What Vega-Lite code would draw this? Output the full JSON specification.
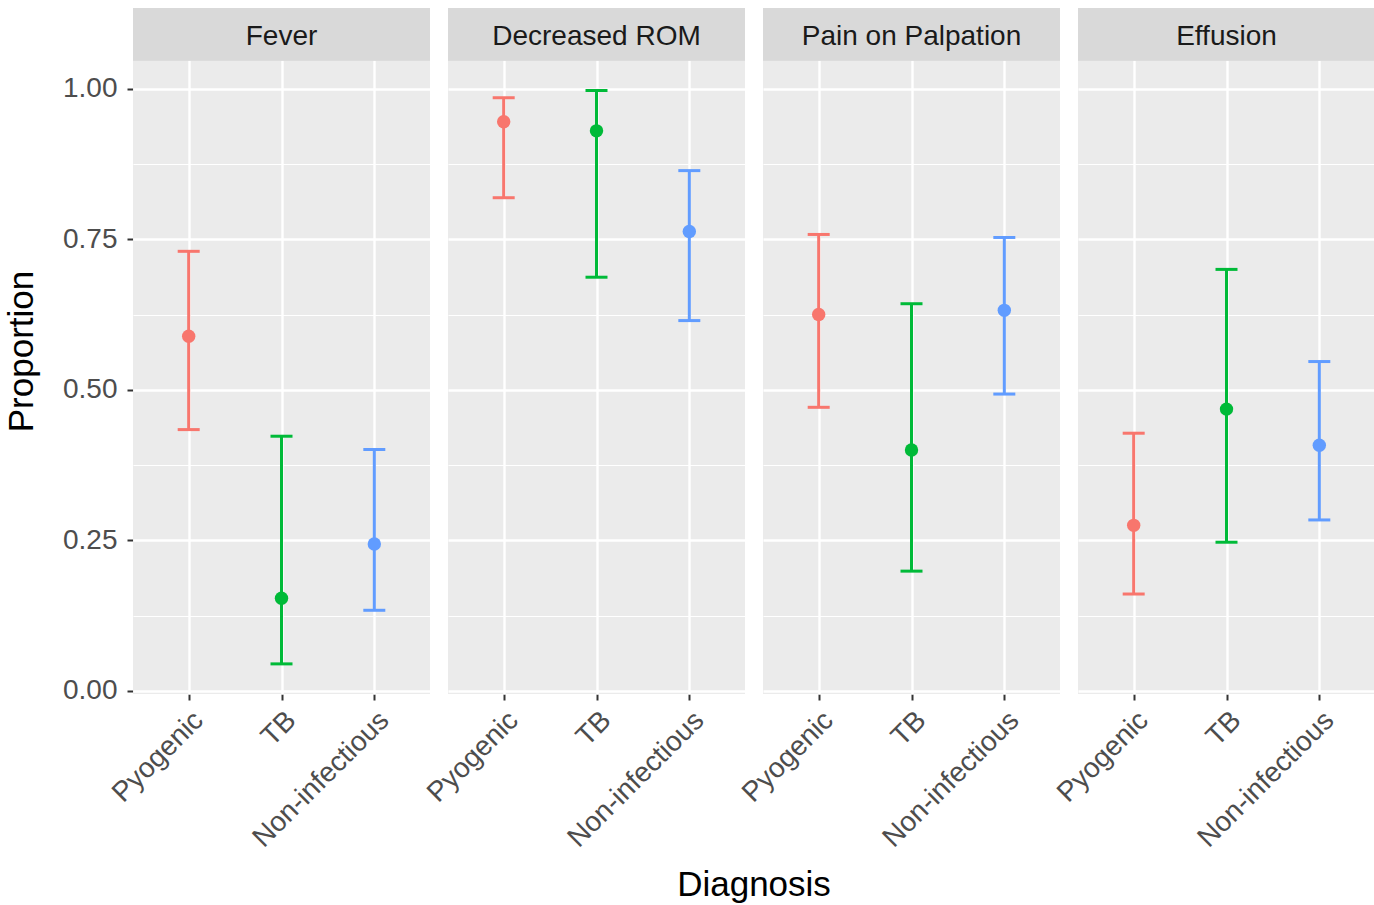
{
  "$schema": "https://vega.github.io/schema/vega-lite/v6.json",
  "padding": {"left": 4, "top": 8, "right": 0, "bottom": 2},
  "background": "white",
  "data": {"values": [
    {"symptom": "Fever", "diagnosis": "Pyogenic", "p": 0.589, "lo": 0.434, "hi": 0.730},
    {"symptom": "Fever", "diagnosis": "TB", "p": 0.154, "lo": 0.045, "hi": 0.423},
    {"symptom": "Fever", "diagnosis": "Non-infectious", "p": 0.244, "lo": 0.134, "hi": 0.401},
    {"symptom": "Decreased ROM", "diagnosis": "Pyogenic", "p": 0.945, "lo": 0.819, "hi": 0.985},
    {"symptom": "Decreased ROM", "diagnosis": "TB", "p": 0.930, "lo": 0.687, "hi": 0.997},
    {"symptom": "Decreased ROM", "diagnosis": "Non-infectious", "p": 0.763, "lo": 0.615, "hi": 0.864},
    {"symptom": "Pain on Palpation", "diagnosis": "Pyogenic", "p": 0.625, "lo": 0.471, "hi": 0.758},
    {"symptom": "Pain on Palpation", "diagnosis": "TB", "p": 0.400, "lo": 0.199, "hi": 0.643},
    {"symptom": "Pain on Palpation", "diagnosis": "Non-infectious", "p": 0.632, "lo": 0.493, "hi": 0.753},
    {"symptom": "Effusion", "diagnosis": "Pyogenic", "p": 0.275, "lo": 0.161, "hi": 0.428},
    {"symptom": "Effusion", "diagnosis": "TB", "p": 0.468, "lo": 0.247, "hi": 0.700},
    {"symptom": "Effusion", "diagnosis": "Non-infectious", "p": 0.408, "lo": 0.284, "hi": 0.547}
  ]},
  "facet": {
    "column": {
      "field": "symptom",
      "type": "nominal",
      "sort": ["Fever", "Decreased ROM", "Pain on Palpation", "Effusion"],
      "title": "Diagnosis",
      "header": {
        "labels": false,
        "titleOrient": "bottom",
        "titleFontSize": 35,
        "titleFont": "Liberation Sans",
        "titleFontWeight": "normal",
        "titleColor": "black",
        "titlePadding": 5
      }
    }
  },
  "spacing": 18,
  "spec": {
    "width": 297,
    "height": 686,
    "encoding": {
      "x": {
        "field": "diagnosis",
        "type": "ordinal",
        "sort": ["Pyogenic", "TB", "Non-infectious"],
        "scale": {"type": "point", "padding": 0.6},
        "axis": {
          "title": null,
          "grid": true,
          "gridColor": "white",
          "gridWidth": 2.4,
          "domain": false,
          "tickColor": "#333333",
          "tickSize": 6,
          "tickWidth": 2,
          "labelAngle": -45,
          "labelAlign": "right",
          "labelBaseline": "top",
          "labelFont": "Liberation Sans",
          "labelFontSize": 28,
          "labelColor": "#4d4d4d",
          "labelPadding": 6
        }
      }
    },
    "layer": [
      {
        "mark": {"type": "rect", "color": "#d9d9d9"},
        "encoding": {
          "x": null,
          "y": {"datum": 1.047, "type": "quantitative"},
          "y2": {"datum": 1.134}
        }
      },
      {
        "transform": [{"filter": "datum.diagnosis == 'TB'"}],
        "mark": {"type": "text", "font": "Liberation Sans", "fontSize": 28, "color": "#1a1a1a", "baseline": "middle", "align": "center", "dy": 2},
        "encoding": {
          "y": {"datum": 1.09, "type": "quantitative"},
          "text": {"field": "symptom"}
        }
      },
      {
        "mark": {"type": "rule", "strokeWidth": 3},
        "encoding": {
          "y": {"field": "lo", "type": "quantitative"},
          "y2": {"field": "hi"},
          "color": {"field": "diagnosis", "type": "nominal", "scale": {"domain": ["Pyogenic", "TB", "Non-infectious"], "range": ["#F8766D", "#00BA38", "#619CFF"]}, "legend": null}
        }
      },
      {
        "mark": {"type": "tick", "thickness": 3, "size": 22, "opacity": 1},
        "encoding": {
          "y": {"field": "lo", "type": "quantitative"},
          "color": {"field": "diagnosis", "type": "nominal", "legend": null}
        }
      },
      {
        "mark": {"type": "tick", "thickness": 3, "size": 22, "opacity": 1},
        "encoding": {
          "y": {"field": "hi", "type": "quantitative"},
          "color": {"field": "diagnosis", "type": "nominal", "legend": null}
        }
      },
      {
        "mark": {"type": "point", "filled": true, "size": 180, "opacity": 1},
        "encoding": {
          "y": {
            "field": "p",
            "type": "quantitative",
            "title": "Proportion",
            "scale": {"domain": [-0.005, 1.134], "nice": false, "zero": false},
            "axis": {
              "values": [0, 0.125, 0.25, 0.375, 0.5, 0.625, 0.75, 0.875, 1.0],
              "labelExpr": "round(datum.value*8) % 2 == 1 ? '' : format(datum.value, '.2f')",
              "grid": true,
              "gridColor": "white",
              "gridWidth": {"condition": {"test": "round(datum.value*8) % 2 == 1", "value": 1.2}, "value": 2.4},
              "tickOpacity": {"condition": {"test": "round(datum.value*8) % 2 == 1", "value": 0}, "value": 1},
              "domain": false,
              "tickColor": "#333333",
              "tickSize": 6,
              "tickWidth": 2,
              "labelFont": "Liberation Sans",
              "labelFontSize": 28,
              "labelColor": "#4d4d4d",
              "labelPadding": 10,
              "titleFont": "Liberation Sans",
              "titleFontSize": 35,
              "titleFontWeight": "normal",
              "titleColor": "black",
              "titlePadding": 23
            }
          },
          "color": {"field": "diagnosis", "type": "nominal", "legend": null}
        }
      }
    ]
  },
  "config": {
    "view": {"fill": "#ebebeb", "stroke": null}
  }
}
